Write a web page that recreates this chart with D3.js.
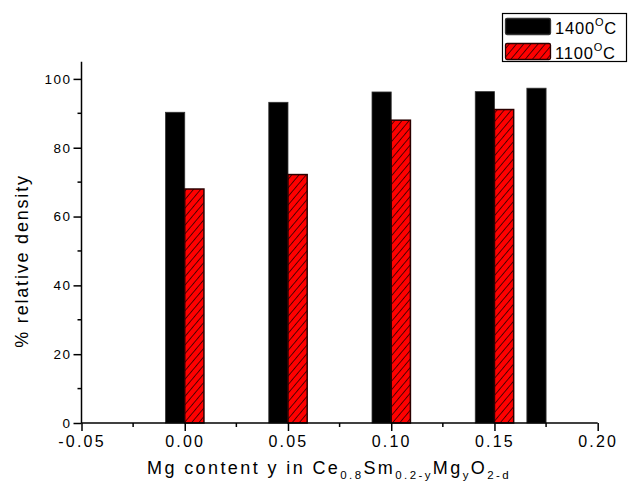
<!DOCTYPE html>
<html>
<head>
<meta charset="utf-8">
<script src="https://cdn.jsdelivr.net/npm/d3@7"></script>
<style>
  html, body { margin: 0; padding: 0; background: #fff; }
  svg { display: block; font-family: "Liberation Sans", Arial, sans-serif; }
</style>
</head>
<body>
<svg id="chart" width="628" height="488"></svg>
<script>
// ---- data ----
const categories = [0.00, 0.05, 0.10, 0.15, 0.175];
const density1400 = [90.3, 93.2, 96.2, 96.3, 97.3];
const density1100 = [68.0, 72.2, 88.0, 91.1, null];
const seriesNames = ["1400", "1100"];
const xTicks = [-0.05, 0.00, 0.05, 0.10, 0.15, 0.20];
const yTicks = [0, 20, 40, 60, 80, 100];

const svg = d3.select("#chart");
const x = d3.scaleLinear().domain([-0.05, 0.20]).range([81.5, 597.7]);
const y = d3.scaleLinear().domain([0, 105]).range([423, 61.7]);
const barW = 0.0093;
const FF = "Liberation Sans, Arial, sans-serif";

// hatch pattern
const defs = svg.append("defs");
const pat = defs.append("pattern")
  .attr("id", "hatch").attr("patternUnits", "userSpaceOnUse")
  .attr("width", 5.5).attr("height", 5.5)
  .attr("patternTransform", "rotate(40)");
pat.append("rect").attr("width", 5.5).attr("height", 5.5).attr("fill", "#ff0000");
pat.append("line").attr("x1", 0).attr("y1", 0).attr("x2", 0).attr("y2", 5.5)
  .attr("stroke", "#000").attr("stroke-width", 1.3);

// bars
const data1400 = categories.map((c, i) => ({c, v: density1400[i]}));
const data1100 = categories.map((c, i) => ({c, v: density1100[i]})).filter(d => d.v != null);

svg.append("g").selectAll("rect").data(data1400).join("rect")
  .attr("x", d => x(d.c - barW))
  .attr("width", d => x(d.c) - x(d.c - barW))
  .attr("y", d => y(d.v))
  .attr("height", d => y(0) - y(d.v))
  .attr("fill", "#000").attr("stroke", "#333").attr("stroke-width", 0.8);

svg.append("g").selectAll("rect").data(data1100).join("rect")
  .attr("x", d => x(d.c))
  .attr("width", d => x(d.c + barW) - x(d.c))
  .attr("y", d => y(d.v))
  .attr("height", d => y(0) - y(d.v))
  .attr("fill", "url(#hatch)").attr("stroke", "#2a0000").attr("stroke-width", 1.5);

// x axis
const fmtX = d => d3.format(".2f")(d).replace("\u2212", "-");
const xAxis = d3.axisBottom(x).tickValues(xTicks).tickSize(8).tickFormat(fmtX);
const gx = svg.append("g").attr("transform", `translate(0,${y(0)})`).call(xAxis);
gx.attr("font-family", FF);
gx.select(".domain").attr("stroke", "#000").attr("stroke-width", 1.5).attr("d", `M${x(-0.05)},0H${x(0.20)}`);
gx.selectAll(".tick line").attr("stroke-width", 1.5);
gx.selectAll(".tick text").attr("font-size", 16).attr("letter-spacing", 2.2)
  .attr("dy", "0.8em").attr("fill", "#000");
const xMinor = d3.range(-0.025, 0.20, 0.05);
svg.append("g").selectAll("line").data(xMinor).join("line")
  .attr("x1", d => x(d)).attr("x2", d => x(d))
  .attr("y1", y(0)).attr("y2", y(0) + 4)
  .attr("stroke", "#000").attr("stroke-width", 1.5);

// y axis
const yAxis = d3.axisLeft(y).tickValues(yTicks).tickSize(8).tickFormat(d3.format("d"));
const gy = svg.append("g").attr("transform", `translate(${x(-0.05)},0)`).call(yAxis);
gy.attr("font-family", FF);
gy.select(".domain").attr("stroke", "#000").attr("stroke-width", 1.5).attr("d", `M0,${y(105)}V${y(0)}`);
gy.selectAll(".tick line").attr("stroke-width", 1.5);
gy.selectAll(".tick text").attr("font-size", 13.5).attr("letter-spacing", 1.5)
  .attr("x", -10).attr("fill", "#000");
const yMinor = d3.range(10, 105, 20);
svg.append("g").selectAll("line").data(yMinor).join("line")
  .attr("x1", x(-0.05) - 4).attr("x2", x(-0.05))
  .attr("y1", d => y(d)).attr("y2", d => y(d))
  .attr("stroke", "#000").attr("stroke-width", 1.5);

// x title
const xt = svg.append("text").attr("x", 147).attr("y", 474)
  .attr("font-size", 18).attr("letter-spacing", 2.4).attr("fill", "#000");
const parts = [["Mg content y in Ce", 0], ["0.8", 1], ["Sm", 0], ["0.2-y", 1], ["Mg", 0], ["y", 1], ["O", 0], ["2-d", 1]];
let prevSub = 0;
parts.forEach(([t, sub]) => {
  const ts = xt.append("tspan").text(t);
  if (sub) { ts.attr("font-size", 11.5).attr("dy", prevSub ? 0 : 5); }
  else { ts.attr("dy", prevSub ? -5 : 0); }
  prevSub = sub;
});

// y title
svg.append("text").attr("transform", "translate(28,261) rotate(-90)")
  .attr("text-anchor", "middle").attr("font-size", 18).attr("letter-spacing", 1.8)
  .attr("fill", "#000").text("% relative density");

// legend
const lg = svg.append("g");
lg.append("rect").attr("x", 502.5).attr("y", 13.5).attr("width", 124).attr("height", 48)
  .attr("fill", "#fff").attr("stroke", "#000").attr("stroke-width", 1.2);
const fills = ["#000", "url(#hatch)"];
const strokes = ["#333", "#2a0000"];
seriesNames.forEach((n, i) => {
  const yy = 18.5 + i * 25;
  lg.append("rect").attr("x", 505.5).attr("y", yy).attr("width", 45).attr("height", 16)
    .attr("rx", 1.5).attr("fill", fills[i]).attr("stroke", strokes[i]).attr("stroke-width", 1.3);
  const t = lg.append("text").attr("x", 555).attr("y", yy + 15)
    .attr("font-size", 16.5).attr("letter-spacing", 0.8).attr("fill", "#000");
  t.append("tspan").text(n);
  t.append("tspan").text("O").attr("font-size", 11).attr("dy", -8);
  t.append("tspan").text("C").attr("dy", 8);
});
</script>
</body>
</html>
